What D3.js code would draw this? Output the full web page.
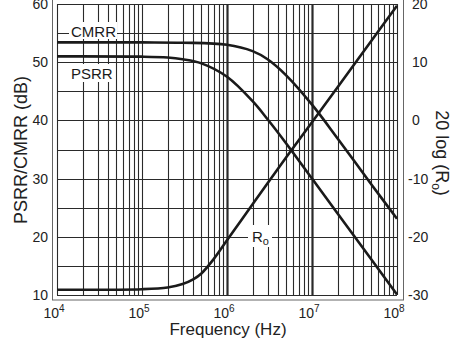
<!DOCTYPE html>
<html><head><meta charset="utf-8">
<script src="https://cdn.jsdelivr.net/npm/d3@7"></script>
<style>
html,body{margin:0;padding:0;background:#fff;}
svg{display:block;font-family:"Liberation Sans",Arial,Helvetica,sans-serif;}
</style></head>
<body>
<svg id="c" width="457" height="339"></svg>
<script>
// ---- data ----
const cmrrFreq = [1e4, 1e5, 3e5, 1e6, 2e6, 3e6, 5e6, 1e7, 2e7, 5e7, 1e8];
const cmrrDb   = [53.4, 53.4, 53.35, 53.0, 51.9, 50.5, 47.7, 42.7, 36.9, 29.0, 23.1];
const psrrFreq = [1e4, 1e5, 2e5, 3e5, 5e5, 1e6, 2e6, 3e6, 5e6, 1e7, 2e7, 5e7, 1e8];
const psrrDb   = [51.0, 50.95, 50.8, 50.5, 49.8, 47.5, 43.3, 40.2, 36.0, 30.0, 24.0, 16.1, 10.1];
const roFreq   = [1e4, 1e5, 2e5, 3e5, 4e5, 5e5, 7e5, 1e6, 1.5e6, 2e6, 3e6, 5e6, 1e7, 2e7, 5e7, 1e8];
const roDb     = [-29.1, -29.0, -28.7, -28.1, -27.3, -26.3, -23.8, -20.6, -17.0, -14.4, -10.8, -6.3, -0.3, 5.7, 13.7, 19.7];
const leftTicks  = [10, 20, 30, 40, 50, 60];
const rightTicks = [-30, -20, -10, 0, 10, 20];
const freqExps   = [4, 5, 6, 7, 8];
const gridDb     = [10, 15, 20, 25, 30, 35, 40, 45, 50, 55, 60];

const svg = d3.select("#c");
const x  = d3.scaleLog().domain([1e4, 1e8]).range([57, 397]);
const yL = d3.scaleLinear().domain([10, 60]).range([295, 4]);
const yR = d3.scaleLinear().domain([-30, 20]).range([295, 4]);

// outer frame
svg.append("rect").attr("x", 52.5).attr("y", -1).attr("width", 351).attr("height", 301)
  .attr("fill", "none").attr("stroke", "#666").attr("stroke-width", 1);

// vertical grid
const vLines = [];
for (let e = 4; e < 8; e++) for (let m = 1; m < 10; m++) vLines.push(m * Math.pow(10, e));
vLines.push(1e8);
svg.append("g").selectAll("line").data(vLines).join("line")
  .attr("x1", d => Math.round(x(d)) + 0.5).attr("x2", d => Math.round(x(d)) + 0.5)
  .attr("y1", yL(60)).attr("y2", yL(10))
  .attr("stroke", "#2a2a2a")
  .attr("stroke-width", d => (d === 1e6 || d === 1e7) ? 2.2 : 1.1);

// horizontal grid
svg.append("g").selectAll("line").data(gridDb).join("line")
  .attr("x1", x(1e4)).attr("x2", x(1e8))
  .attr("y1", d => Math.round(yL(d)) + 0.5).attr("y2", d => Math.round(yL(d)) + 0.5)
  .attr("stroke", "#2a2a2a").attr("stroke-width", 1.1);

// curves
const lineL = d3.line().x(d => x(d[0])).y(d => yL(d[1])).curve(d3.curveCatmullRom.alpha(0.5));
const lineR = d3.line().x(d => x(d[0])).y(d => yR(d[1])).curve(d3.curveCatmullRom.alpha(0.5));
const curveStyle = p => p.attr("fill", "none").attr("stroke", "#1a1a1a").attr("stroke-width", 2.6);
svg.append("path").datum(d3.zip(cmrrFreq, cmrrDb)).attr("d", lineL).call(curveStyle);
svg.append("path").datum(d3.zip(psrrFreq, psrrDb)).attr("d", lineL).call(curveStyle);
svg.append("path").datum(d3.zip(roFreq, roDb)).attr("d", lineR).call(curveStyle);

// curve labels with white boxes
function label(bx, by, bw, bh) {
  svg.append("rect").attr("x", bx).attr("y", by).attr("width", bw).attr("height", bh).attr("fill", "#fff");
}
label(69, 22, 48, 17);
svg.append("text").attr("x", 71).attr("y", 37).attr("font-size", 15).attr("fill", "#1a1a1a").text("CMRR");
label(69, 64, 46, 18);
svg.append("text").attr("x", 71).attr("y", 79).attr("font-size", 15).attr("fill", "#1a1a1a").text("PSRR");
label(248, 225, 24, 22);
const ro = svg.append("text").attr("x", 252).attr("y", 242).attr("font-size", 15).attr("fill", "#1a1a1a");
ro.append("tspan").text("R");
ro.append("tspan").attr("dy", 3).attr("font-size", 11).text("o");

// left ticks
svg.append("g").selectAll("text").data(leftTicks).join("text")
  .attr("x", 48).attr("y", d => yL(d)).attr("dy", "0.35em")
  .attr("text-anchor", "end").attr("font-size", 14).attr("fill", "#222").text(d => d);
// right ticks
svg.append("g").selectAll("text").data(rightTicks).join("text")
  .attr("x", d => d < 0 ? 408 : 412).attr("y", d => yR(d)).attr("dy", "0.35em")
  .attr("text-anchor", "start").attr("font-size", 14).attr("fill", "#222").text(d => d);
// bottom ticks
const bt = svg.append("g").selectAll("text").data(freqExps).join("text")
  .attr("x", d => x(Math.pow(10, d)) - 3).attr("y", 318)
  .attr("text-anchor", "middle").attr("font-size", 14).attr("fill", "#222");
bt.append("tspan").text("10");
bt.append("tspan").attr("dy", -6).attr("font-size", 10).text(d => d);

// axis titles
svg.append("text").attr("transform", "translate(27,150) rotate(-90)")
  .attr("text-anchor", "middle").attr("font-size", 18).attr("fill", "#222").text("PSRR/CMRR (dB)");
svg.append("text").attr("x", 228).attr("y", 335)
  .attr("text-anchor", "middle").attr("font-size", 17).attr("fill", "#222").text("Frequency (Hz)");
const rt = svg.append("text").attr("transform", "translate(436,153) rotate(90)")
  .attr("text-anchor", "middle").attr("font-size", 18).attr("fill", "#222");
rt.append("tspan").text("20 log (R");
rt.append("tspan").attr("dy", 4).attr("font-size", 12).text("o");
rt.append("tspan").attr("dy", -4).text(")");
</script>
</body></html>
